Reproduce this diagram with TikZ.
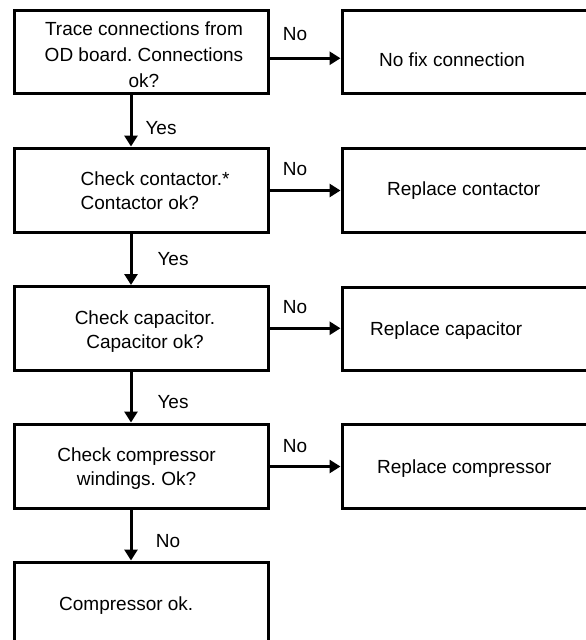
\documentclass[tikz,border=0pt]{standalone}
\usepackage{fontspec}
\setmainfont{Liberation Sans}
\usetikzlibrary{arrows.meta}
\begin{document}
\frenchspacing
\begin{tikzpicture}[x=1pt,y=-1pt,
  box/.style={draw=black,line width=3pt,minimum width=254pt,inner sep=0pt},
  rbox/.style={draw=black,line width=3pt,minimum width=278pt,inner sep=0pt},
  txt/.style={font=\fontsize{19}{24}\selectfont,inner sep=0pt},
  arr/.style={line width=3pt,-{Triangle[length=11pt,width=13pt]}}]
\useasboundingbox (0,0) rectangle (586,640);
\clip (0,0) rectangle (586,640);
% left boxes
\node[box,minimum height=82.5pt] (b1) at (141,51.75) {};
\node[box,minimum height=84pt] (b2) at (141,190) {};
\node[box,minimum height=83.5pt] (b3) at (141,328.25) {};
\node[box,minimum height=84pt] (b4) at (141,466) {};
\node[box,minimum height=158pt] (b5) at (141,641) {};
% right boxes
\node[rbox,minimum height=82.5pt] (r1) at (481,51.75) {};
\node[rbox,minimum height=84pt] (r2) at (481,190) {};
\node[rbox,minimum height=83pt] (r3) at (481,328.5) {};
\node[rbox,minimum height=84pt] (r4) at (481,466) {};
% texts in left boxes (first-line baseline = node top + 15)
\node[txt,align=center,anchor=north,font=\fontsize{19}{26}\selectfont] (t1) at (144,20) {\rule{0pt}{15pt}Trace connections from\\OD board. Connections\\ok?};
\node[txt,align=left,anchor=north west] (t2) at (80.5,170) {\rule{0pt}{15pt}Check contactor.*\\Contactor ok?};
\node[txt,align=center,anchor=north] (t3) at (145,309) {\rule{0pt}{15pt}Check capacitor.\\Capacitor ok?};
\node[txt,align=center,anchor=north] (t4) at (136.5,446) {\rule{0pt}{15pt}Check compressor\\windings. Ok?};
\node[txt,anchor=base west] (t5) at (59,610) {Compressor ok.};
% texts in right boxes
\node[txt,anchor=base west] (s1) at (379,66.5) {No fix connection};
\node[txt,anchor=base west] (s2) at (387,195) {Replace contactor};
\node[txt,anchor=base west] (s3) at (370,335) {Replace capacitor};
\node[txt,anchor=base west] (s4) at (377,473) {Replace compressor};
% labels
\node[txt,anchor=base] (n1) at (295,40) {No};
\node[txt,anchor=base] (n2) at (295,175) {No};
\node[txt,anchor=base] (n3) at (295,313) {No};
\node[txt,anchor=base] (n4) at (295,452) {No};
\node[txt,anchor=base] (y1) at (161,134) {Yes};
\node[txt,anchor=base] (y2) at (173,265) {Yes};
\node[txt,anchor=base] (y3) at (173,408) {Yes};
\node[txt,anchor=base] (n5) at (168,547) {No};
% connectors
\draw[arr] ([xshift=-10pt]b1.south) -- ([xshift=-10pt]b2.north);
\draw[arr] ([xshift=-10pt]b2.south) -- ([xshift=-10pt]b3.north);
\draw[arr] ([xshift=-10pt]b3.south) -- ([xshift=-10pt]b4.north);
\draw[arr] ([xshift=-10pt]b4.south) -- ([xshift=-10pt]b5.north);
\draw[arr] ([yshift=-6.5pt]b1.east) -- ([yshift=-6.5pt]b1.east -| r1.west);
\draw[arr] ([yshift=-0.5pt]b2.east) -- ([yshift=-0.5pt]b2.east -| r2.west);
\draw[arr] (b3.east) -- (b3.east -| r3.west);
\draw[arr] ([yshift=-0.5pt]b4.east) -- ([yshift=-0.5pt]b4.east -| r4.west);
\end{tikzpicture}
\end{document}
